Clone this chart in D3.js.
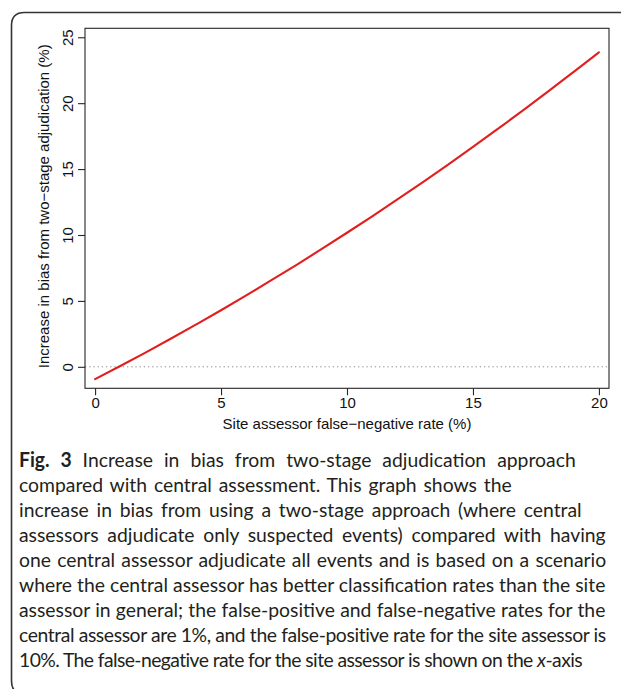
<!DOCTYPE html>
<html>
<head>
<meta charset="utf-8">
<script src="https://cdn.jsdelivr.net/npm/d3@7/dist/d3.min.js"></script>
<style>
  html, body { margin: 0; padding: 0; background: #fff; }
  svg { display: block; }
</style>
</head>
<body>
<svg id="fig" width="621" height="689"></svg>
<script>
// Site assessor false-negative rate (%) and the resulting increase in bias (%)
const falseNegRate = [0, 1, 2, 3, 4, 5, 6, 7, 8, 9, 10, 11, 12, 13, 14, 15, 16, 17, 18, 19, 20];
const biasIncrease = [-0.93, 0.06, 1.08, 2.13, 3.20, 4.29, 5.42, 6.57, 7.74, 8.94, 10.17,
                      11.42, 12.70, 14.00, 15.32, 16.68, 18.07, 19.47, 20.91, 22.38, 23.86];
const xTicks = [0, 5, 10, 15, 20];
const yTicks = [0, 5, 10, 15, 20, 25];

const xTitle = "Site assessor false\u2212negative rate (%)";
const yTitle = "Increase in bias from two\u2212stage adjudication (%)";

const captionLabel = "Fig. 3";
const captionLines = [
  " Increase in bias from two-stage adjudication approach",
  "compared with central assessment. This graph shows the",
  "increase in bias from using a two-stage approach (where central",
  "assessors adjudicate only suspected events) compared with having",
  "one central assessor adjudicate all events and is based on a scenario",
  "where the central assessor has better classification rates than the site",
  "assessor in general; the false-positive and false-negative rates for the",
  "central assessor are 1%, and the false-positive rate for the site assessor is",
  "10%. The false-negative rate for the site assessor is shown on the x-axis"
];
// right edge each caption line is spread to
const captionEnds = [576, 512, 582, 606, 606.5, 605.7, 605.7, 606.5, 582.7];

const svg = d3.select("#fig");

// panel frame with rounded left corners
const fx = 11.5, fy = 12.5, fr = 13, fb = 694, fRight = 660;
svg.append("path")
  .attr("d", `M${fRight},${fy} L${fx + fr},${fy} Q${fx},${fy} ${fx},${fy + fr} L${fx},${fb - fr} Q${fx},${fb} ${fx + fr},${fb} L${fRight},${fb}`)
  .attr("fill", "none")
  .attr("stroke", "#333")
  .attr("stroke-width", 1.6);

const plot = { left: 85, right: 609, top: 28.3, bottom: 388.3 };

const x = d3.scaleLinear().domain([-0.4, 20.4]).range([plot.left, plot.right]);
const y = d3.scaleLinear().domain([-1.63, 25.68]).range([plot.bottom, plot.top]);

const axisFont = "'Liberation Sans', Arial, Helvetica, sans-serif";

// zero reference line
svg.append("line")
  .attr("x1", plot.left).attr("x2", plot.right)
  .attr("y1", y(0)).attr("y2", y(0))
  .attr("stroke", "#8c8c8c")
  .attr("stroke-width", 1)
  .attr("stroke-dasharray", "1.3,2.9");

// bias curve
const line = d3.line()
  .x((d, i) => x(falseNegRate[i]))
  .y(d => y(d))
  .curve(d3.curveMonotoneX);

svg.append("path")
  .datum(biasIncrease)
  .attr("d", line)
  .attr("fill", "none")
  .attr("stroke", "#e0201f")
  .attr("stroke-width", 2.1)
  .attr("stroke-linecap", "round");

// plot box
svg.append("rect")
  .attr("x", plot.left).attr("y", plot.top)
  .attr("width", plot.right - plot.left)
  .attr("height", plot.bottom - plot.top)
  .attr("fill", "none")
  .attr("stroke", "#262626")
  .attr("stroke-width", 1.1);

// x axis
const gx = svg.append("g")
  .attr("transform", `translate(0,${plot.bottom})`)
  .call(d3.axisBottom(x).tickValues(xTicks).tickSize(7).tickSizeOuter(0).tickPadding(0));
gx.select(".domain").remove();
gx.selectAll(".tick line").attr("stroke", "#262626").attr("stroke-width", 1.1);
gx.selectAll(".tick text")
  .attr("y", 20)
  .attr("dy", null)
  .attr("fill", "#111")
  .style("font-family", axisFont)
  .style("font-size", "15px");

// y axis with labels turned parallel to the axis
const gy = svg.append("g")
  .attr("transform", `translate(${plot.left},0)`)
  .call(d3.axisLeft(y).tickValues(yTicks).tickSize(7).tickSizeOuter(0));
gy.select(".domain").remove();
gy.selectAll(".tick line").attr("stroke", "#262626").attr("stroke-width", 1.1);
gy.selectAll(".tick text")
  .attr("x", null).attr("dy", null)
  .attr("transform", "translate(-12.5,0) rotate(-90)")
  .attr("text-anchor", "middle")
  .attr("fill", "#111")
  .style("font-family", axisFont)
  .style("font-size", "15px");

// axis titles
svg.append("text")
  .attr("x", (plot.left + plot.right) / 2)
  .attr("y", 429)
  .attr("text-anchor", "middle")
  .attr("fill", "#111")
  .style("font-family", axisFont)
  .style("font-size", "15px")
  .text(xTitle);

svg.append("text")
  .attr("transform", `translate(49,${(plot.top + plot.bottom) / 2 - 2}) rotate(-90)`)
  .attr("text-anchor", "middle")
  .attr("fill", "#111")
  .style("font-family", axisFont)
  .style("font-size", "15px")
  .text(yTitle);

// caption: a slightly condensed face, each line spread to its right edge
const capFont = "Lato, 'Open Sans', sans-serif";
const capX = 19, capY0 = 466.7, capLead = 25;
const capNodes = captionLines.map((txt, i) => {
  const t = svg.append("text")
    .attr("x", 0)
    .attr("fill", "#231f20")
    .style("font-family", capFont)
    .style("font-weight", 400)
    .style("font-size", "20px");
  if (i === 0) {
    t.append("tspan").style("font-weight", "bold").text(captionLabel);
  }
  if (i === 8) {
    const parts = txt.split("x-axis");
    t.append("tspan").text(parts[0]);
    t.append("tspan").style("font-style", "italic").text("x");
    t.append("tspan").text("-axis");
  } else {
    t.append("tspan").text(txt);
  }
  const full = (i === 0 ? captionLabel : "") + txt;
  return {
    t,
    natural: t.node().getComputedTextLength(),
    spaces: (full.match(/ /g) || []).length,
    chars: full.length
  };
});

// common horizontal squeeze from the fully justified lines; a line that is still
// too long is tightened a little, the others are spread at the word gaps
const sx = Math.min(1, d3.mean(capNodes.slice(3, 8), (c, j) => (captionEnds[j + 3] - capX) / c.natural) * 0.995);
capNodes.forEach((c, i) => {
  const target = (captionEnds[i] - capX) / sx;
  const extra = target - c.natural;
  c.t.attr("transform", `translate(${capX},${capY0 + i * capLead}) scale(${sx},1)`);
  if (extra >= 0) {
    c.t.style("word-spacing", (extra / c.spaces) + "px");
  } else {
    c.t.style("letter-spacing", (extra / c.chars) + "px");
  }
});
</script>
</body>
</html>
